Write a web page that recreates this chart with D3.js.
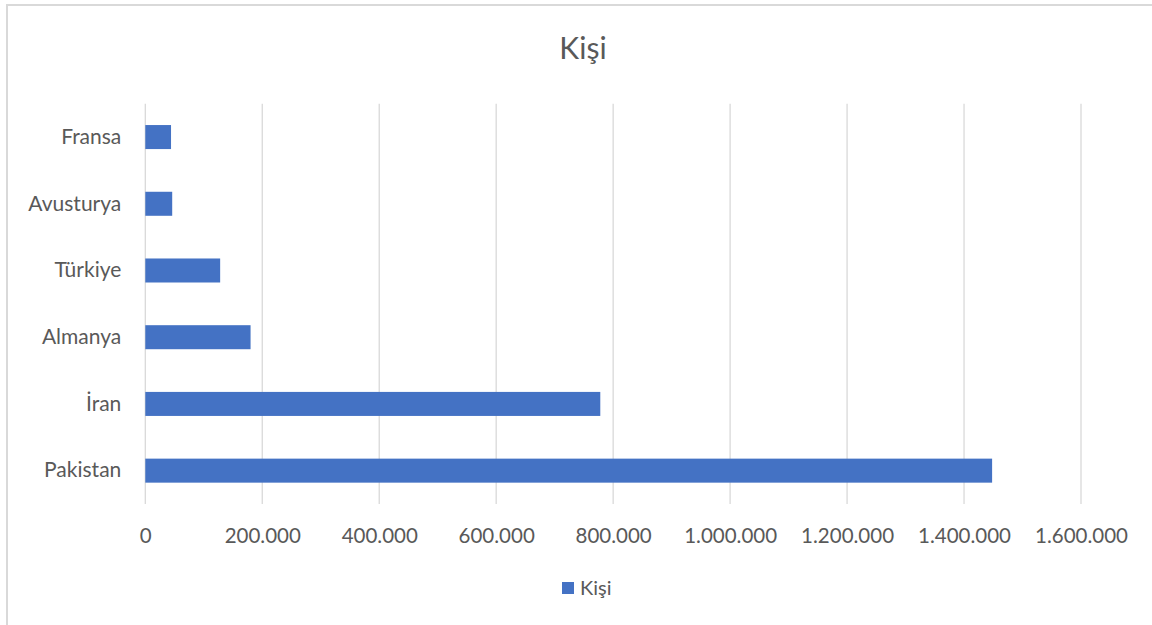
<!DOCTYPE html>
<html>
<head>
<meta charset="utf-8">
<script src="https://cdn.jsdelivr.net/npm/d3@7"></script>
<style>
  body { margin: 0; background: #fff; }
  svg { display: block; font-family: Lato, "Open Sans", sans-serif; }
</style>
</head>
<body>
<svg id="chart" width="1152" height="625"></svg>
<script>
// Chart data
const countries = ['Fransa', 'Avusturya', 'Türkiye', 'Almanya', 'İran', 'Pakistan'];
const people = [44000, 46000, 128000, 180000, 778000, 1448000];
const xTicks = [0, 200000, 400000, 600000, 800000, 1000000, 1200000, 1400000, 1600000];
const seriesName = 'Kişi';

const svg = d3.select('#chart');
const textColor = '#595959';
const gridColor = '#d9d9d9';
const barColor = '#4472c4';

// outer chart border (only top and left visible in the screenshot)
svg.append('rect')
    .attr('x', 7).attr('y', 5)
    .attr('width', 1160).attr('height', 640)
    .attr('fill', 'none')
    .attr('stroke', gridColor)
    .attr('stroke-width', 2);

// title
svg.append('text')
    .attr('x', 583).attr('y', 59)
    .attr('text-anchor', 'middle')
    .style('font-size', '30px')
    .style('fill', textColor)
    .text(seriesName);

const margin = { left: 145.3, right: 1081, top: 103.7, bottom: 504 };

const x = d3.scaleLinear()
    .domain([0, 1600000])
    .range([margin.left, margin.right]);

const y = d3.scaleBand()
    .domain(countries)
    .range([margin.top, margin.bottom])
    .paddingInner(0.64)
    .paddingOuter(0.32);

const trFormat = d3.formatLocale({ decimal: ',', thousands: '.', grouping: [3], currency: ['', ''] }).format(',d');

// gridlines
svg.append('g')
    .selectAll('line')
    .data(xTicks)
    .join('line')
    .attr('x1', d => x(d)).attr('x2', d => x(d))
    .attr('y1', margin.top).attr('y2', margin.bottom)
    .attr('stroke', gridColor)
    .attr('stroke-width', 1.3);

// x axis labels
const xAxis = svg.append('g')
    .attr('transform', `translate(0, ${margin.bottom})`)
    .call(d3.axisBottom(x).tickValues(xTicks).tickFormat(trFormat).tickSize(0).tickPadding(24));
xAxis.select('.domain').remove();
xAxis.selectAll('text')
    .style('font-size', '20.5px')
    .style('font-family', 'Lato, "Open Sans", sans-serif')
    .style('fill', textColor);

// y axis labels
const yAxis = svg.append('g')
    .attr('transform', `translate(${margin.left}, 0)`)
    .call(d3.axisLeft(y).tickSize(0).tickPadding(24));
yAxis.select('.domain').remove();
yAxis.selectAll('text')
    .style('font-size', '21px')
    .style('font-family', 'Lato, "Open Sans", sans-serif')
    .style('fill', textColor);

// bars
svg.append('g')
    .selectAll('rect')
    .data(countries.map((c, i) => ({ country: c, value: people[i] })))
    .join('rect')
    .attr('x', x(0))
    .attr('y', d => y(d.country))
    .attr('width', d => x(d.value) - x(0))
    .attr('height', y.bandwidth())
    .attr('fill', barColor);

// legend
const legend = svg.append('g').attr('transform', 'translate(562, 582)');
legend.append('rect')
    .attr('width', 12).attr('height', 12)
    .attr('fill', barColor);
legend.append('text')
    .attr('x', 18).attr('y', 13)
    .style('font-size', '20px')
    .style('fill', textColor)
    .text(seriesName);
</script>
</body>
</html>
